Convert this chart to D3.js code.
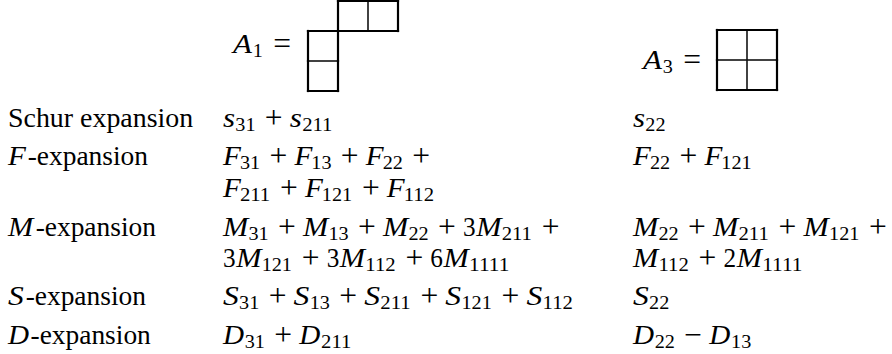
<!DOCTYPE html>
<html><head><meta charset="utf-8">
<script src="https://cdn.jsdelivr.net/npm/d3@7"></script>
<style>html,body{margin:0;padding:0;background:#fff}svg{display:block}
text{font-family:"Liberation Serif","Times New Roman",serif;fill:#000}
</style>
</head><body>
<svg id="c" width="892" height="354"></svg>
<script>
// ---- data ----
const rowLabels = ["Schur expansion", "F-expansion", "M-expansion", "S-expansion", "D-expansion"];
const labelItalic = ["", "F", "M", "S", "D"];
const expansionA1 = [
  ["s_{31} + s_{211}"],
  ["F_{31} + F_{13} + F_{22} +", "F_{211} + F_{121} + F_{112}"],
  ["M_{31} + M_{13} + M_{22} + 3M_{211} +", "3M_{121} + 3M_{112} + 6M_{1111}"],
  ["S_{31} + S_{13} + S_{211} + S_{121} + S_{112}"],
  ["D_{31} + D_{211}"]
];
const expansionA3 = [
  ["s_{22}"],
  ["F_{22} + F_{121}"],
  ["M_{22} + M_{211} + M_{121} +", "M_{112} + 2M_{1111}"],
  ["S_{22}"],
  ["D_{22} − D_{13}"]
];
const diagramNames = ["A_{1} =", "A_{3} ="];
// Young diagram cells as [row, col]
const cellsA1 = [[0,1],[0,2],[1,0],[2,0]];
const cellsA3 = [[0,0],[0,1],[1,0],[1,1]];

// ---- typesetting metrics (em units, TeX-like) ----
const F = 26.3;
const mathIt = {A:.750, F:.643, M:.970, S:.613, D:.828, s:.469};
const inkIt  = {A:.72, F:.68, M:.96, S:.60, D:.80, s:.46};   // drawn glyph width
const italCorr = {F:.106, M:.081, S:.058, D:.028};
const textW = {S:.556,c:.444,h:.556,u:.556,r:.392," ":.333,e:.444,x:.528,p:.556,a:.5,n:.556,s:.394,i:.278,o:.5,"-":.333};
const SUBDIG = 0.4, SCRIPTSPACE = 0.05, MED = 0.222, THICK = 0.278, OPW = 0.778, DIG = 0.5;

const svg = d3.select("#c");
const lineBaselines = [127, 165, 197, 236, 267, 305, 344];
const colX = {label: 8, a1: 223, a3: 633};

function run(x, y, txt, o = {}) {
  const t = svg.append("text").attr("x", x).attr("y", y).text(txt)
    .attr("font-size", o.size || F);
  if (o.italic) t.attr("font-style", "italic");
  if (o.anchor) t.attr("text-anchor", o.anchor);
  if (o.len) t.attr("textLength", o.len).attr("lengthAdjust", "spacingAndGlyphs");
  return t;
}

function drawMath(str, x0, y) {
  const toks = [];
  const re = /([A-Za-z])_\{(\d+)\}|(\d+)|([+−])|(=)/g;
  let m;
  while ((m = re.exec(str)) !== null) {
    if (m[1]) toks.push({k: "var", c: m[1], sub: m[2]});
    else if (m[3]) toks.push({k: "num", c: m[3]});
    else if (m[4]) toks.push({k: "bin", c: m[4]});
    else toks.push({k: "rel", c: m[5]});
  }
  let x = x0;
  toks.forEach((t, i) => {
    const last = i === toks.length - 1;
    if (t.k === "var") {
      run(x, y, t.c, {italic: true, len: inkIt[t.c] * F});
      x += mathIt[t.c] * F;
      const w = t.sub.length * SUBDIG * F;
      run(x, y + 0.15 * F, t.sub, {size: 0.7 * F, len: w * 0.96});
      x += w + SCRIPTSPACE * F;
    } else if (t.k === "num") {
      run(x, y, t.c, {len: t.c.length * DIG * F * 0.96});
      x += t.c.length * DIG * F;
    } else {
      const sp = t.k === "bin" ? MED : THICK;
      x += sp * F;
      run(x + OPW * F / 2, y + 0.05 * F, t.c, {size: 1.2 * F, anchor: "middle"});
      x += OPW * F;
      if (!last) x += sp * F;
    }
  });
  return x;
}

// labels + expansions
let li = 0;
rowLabels.forEach((lab, i) => {
  const y = lineBaselines[li];
  let x = colX.label;
  let rest = lab;
  if (labelItalic[i]) {
    const c = labelItalic[i];
    run(x, y, c, {italic: true, len: inkIt[c] * F});
    x += (mathIt[c] + italCorr[c]) * F;
    rest = lab.slice(1);
  }
  const w = [...rest].reduce((s, ch) => s + (textW[ch] || .5), 0) * F;
  run(x, y, rest, {len: w * 0.985});
  const nA = Math.max(expansionA1[i].length, expansionA3[i].length);
  expansionA1[i].forEach((s, k) => drawMath(s, colX.a1, lineBaselines[li + k]));
  expansionA3[i].forEach((s, k) => drawMath(s, colX.a3, lineBaselines[li + k]));
  li += nA;
});

// diagram labels
drawMath(diagramNames[0], 233, 53);
drawMath(diagramNames[1], 643, 69);

// Young diagrams
const CELL = 30;
function drawDiagram(cells, x0, y0) {
  const sx = d3.scaleLinear().domain([0, 1]).range([x0, x0 + CELL]);
  const sy = d3.scaleLinear().domain([0, 1]).range([y0, y0 + CELL]);
  const has = (r, c) => cells.some(d => d[0] === r && d[1] === c);
  const edges = [];
  cells.forEach(([r, c]) => {
    edges.push({x1: c, y1: r, x2: c + 1, y2: r, outer: !has(r - 1, c)});
    edges.push({x1: c, y1: r + 1, x2: c + 1, y2: r + 1, outer: !has(r + 1, c)});
    edges.push({x1: c, y1: r, x2: c, y2: r + 1, outer: !has(r, c - 1)});
    edges.push({x1: c + 1, y1: r, x2: c + 1, y2: r + 1, outer: !has(r, c + 1)});
  });
  const g = svg.append("g");
  g.selectAll("line.inner").data(edges.filter(e => !e.outer)).join("line")
    .attr("x1", d => sx(d.x1)).attr("y1", d => sy(d.y1))
    .attr("x2", d => sx(d.x2)).attr("y2", d => sy(d.y2))
    .attr("stroke", "#111").attr("stroke-width", 1.1);
  g.selectAll("line.outer").data(edges.filter(e => e.outer)).join("line")
    .attr("x1", d => sx(d.x1)).attr("y1", d => sy(d.y1))
    .attr("x2", d => sx(d.x2)).attr("y2", d => sy(d.y2))
    .attr("stroke", "#000").attr("stroke-width", 2.2).attr("stroke-linecap", "square");
}
drawDiagram(cellsA1, 308, 1);
drawDiagram(cellsA3, 717, 30);
</script>
</body></html>
